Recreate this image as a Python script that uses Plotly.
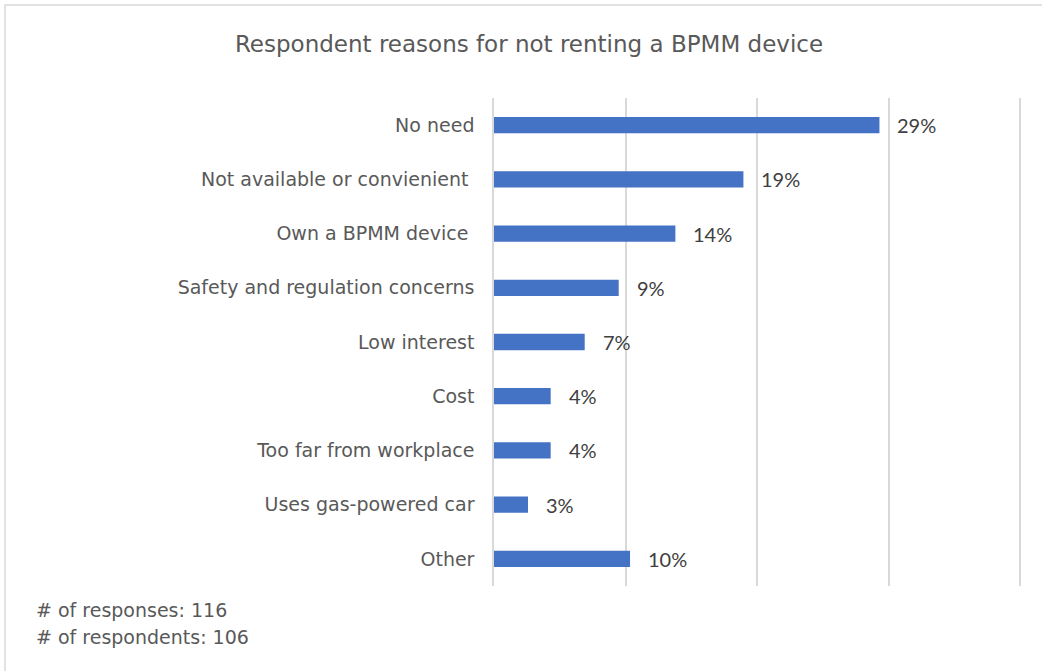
import plotly.graph_objects as go

# Survey results: reasons for not renting a BPMM device
reasons = [
    "No need",
    "Not available or convienient\u00a0",
    "Own a BPMM device\u00a0",
    "Safety and regulation concerns",
    "Low interest",
    "Cost",
    "Too far from workplace",
    "Uses gas-powered car",
    "Other",
]
response_counts = [34, 22, 16, 11, 8, 5, 5, 3, 12]
total_responses = 116
total_respondents = 106

shares = [c / total_responses for c in response_counts]

W, H = 1042, 671
ML, MR, MT, MB = 494, 20, 98, 85
PW, PH = W - ML - MR, H - MT - MB

TEXT_FONT = "DejaVu Sans"
VALUE_FONT = "Lato"
GRAY = "#595959"


def px_x(px):
    return (px - ML) / PW


def px_y(py):
    return (H - MB - py) / PH


fig = go.Figure(
    go.Bar(
        x=shares,
        y=reasons,
        orientation="h",
        marker=dict(color="#4472C4", line=dict(width=0)),
        width=0.3,
        hoverinfo="skip",
    )
)

# Value labels placed just right of each bar end
for r, s in zip(reasons, shares):
    fig.add_annotation(
        x=s, y=r, xref="x", yref="y",
        text=f"{s:.0%}", showarrow=False,
        xanchor="left", yanchor="middle", xshift=16,
        font=dict(family=VALUE_FONT, size=20, color="#404040"),
    )

# Footnote with sample sizes
for text, py in [
    (f"# of responses: {total_responses}", 610),
    (f"# of respondents: {total_respondents}", 637),
]:
    fig.add_annotation(
        x=px_x(34), y=px_y(py), xref="paper", yref="paper",
        text=text, showarrow=False, xanchor="left", yanchor="middle",
        font=dict(family=TEXT_FONT, size=19, color=GRAY),
    )

# Light frame around the whole chart
fig.add_shape(
    type="rect", xref="paper", yref="paper",
    x0=px_x(5), x1=px_x(W + 10),
    y0=px_y(H + 10), y1=px_y(5),
    line=dict(color="#D9D9D9", width=1.5), fillcolor="rgba(0,0,0,0)",
    layer="below",
)

fig.update_layout(
    width=W, height=H,
    margin=dict(l=ML, r=MR, t=MT, b=MB),
    paper_bgcolor="white", plot_bgcolor="white",
    showlegend=False,
    title=dict(
        text="Respondent reasons for not renting a BPMM device",
        x=529 / W, xanchor="center", y=1 - 44 / H, yanchor="middle",
        font=dict(family=TEXT_FONT, size=23, color=GRAY),
    ),
    xaxis=dict(
        range=[0, 0.4015], dtick=0.1, showticklabels=False,
        showgrid=True, gridcolor="#D9D9D9", gridwidth=1.5,
        zeroline=False, showline=False, fixedrange=True,
    ),
    yaxis=dict(
        autorange="reversed", showgrid=False, zeroline=False,
        showline=True, linecolor="#D9D9D9", linewidth=1.5,
        ticks="", ticklabelstandoff=14,
        tickfont=dict(family=TEXT_FONT, size=19, color=GRAY),
    ),
)

fig.write_html("out.html")
